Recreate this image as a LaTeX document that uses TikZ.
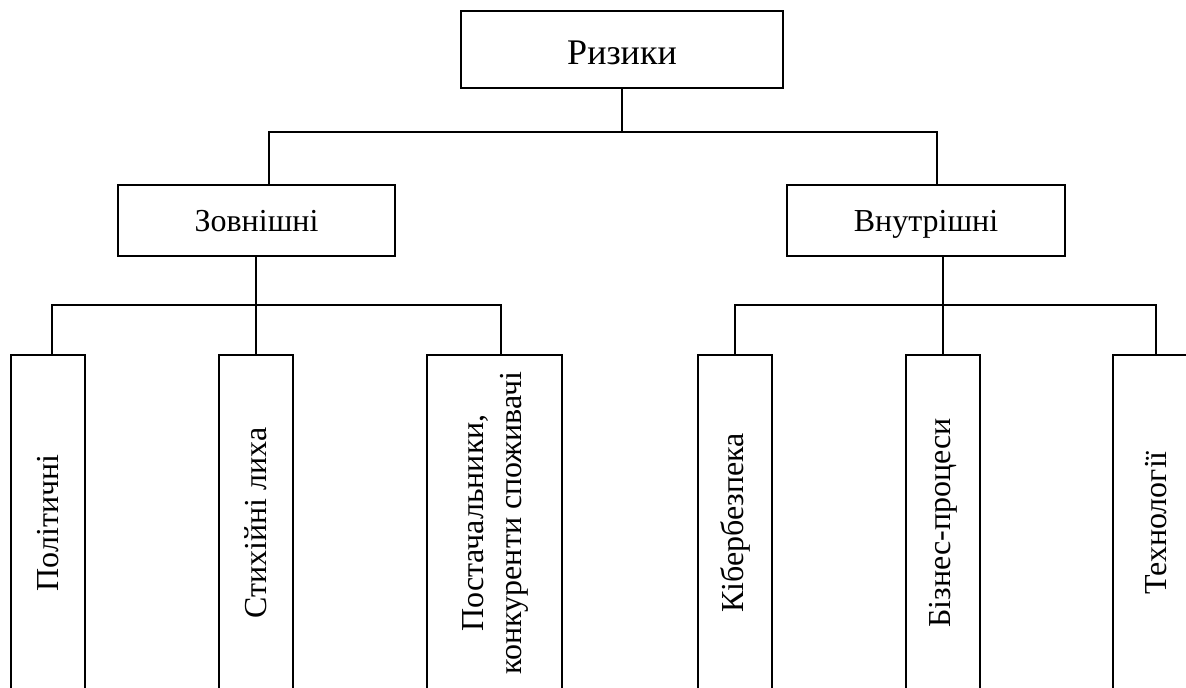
\documentclass[tikz,border=0pt]{standalone}
\usepackage{fontspec}
\setmainfont{Liberation Serif}
\usepackage{graphicx}
\begin{document}
\begin{tikzpicture}[x=0.5pt,y=-0.5pt,line width=1.1pt,
		every node/.style={font=\fontsize{16}{19}\selectfont},
		riskbox/.style={draw, inner sep=0pt, text height=10.6pt, text depth=0pt},
		leafbox/.style={draw, inner sep=0pt, minimum width=37pt, minimum height=168pt}]
				\useasboundingbox (0,0) rectangle (1186,688);
				\clip (0,0) rectangle (1186,688);
				\node[riskbox, minimum width=161pt, minimum height=38.5pt, font=\fontsize{18}{21}\selectfont, text height=15.4pt] (risks) at (622,49.5) {Ризики};
				\node[riskbox, minimum width=138.5pt, minimum height=35.5pt] (ext) at (256.5,220.5) {Зовнішні};
				\node[riskbox, minimum width=139pt, minimum height=35.5pt] (int) at (926,220.5) {Внутрішні};
				\node[leafbox] (pol) at (48,523) {\rotatebox{90}{Політичні}};
				\node[leafbox] (nat) at (256,523) {\rotatebox{90}{Стихійні лиха}};
				\node[leafbox, minimum width=67.5pt] (sup) at (494.5,523) {\rotatebox{90}{\begin{tabular}{@{}c@{}}Постачальники,\\конкуренти споживачі\end{tabular}}};
				\node[leafbox] (cyb) at (735,523) {\rotatebox{90}{Кібербезпека}};
				\node[leafbox] (bus) at (943,523) {\rotatebox{90}{Бізнес-процеси}};
				\node[leafbox, minimum width=43pt] (tech) at (1156,523) {\rotatebox{90}{Технології}};
				\coordinate (top) at (622,132);
				\coordinate (extbar) at (256,305);
				\coordinate (intbar) at (943,305);
				\draw (risks) -- (top);
				\draw ([xshift=6.25pt]ext.north) |- (top) -| ([xshift=5.5pt]int.north);
				\draw (ext.south -| nat.north) -- (nat.north);
				\draw ([xshift=2pt]pol.north) |- (extbar) -| ([xshift=3.25pt]sup.north);
				\draw (int.south -| bus.north) -- (bus.north);
				\draw (cyb.north) |- (intbar) -| (tech.north);
			\end{tikzpicture}
\end{document}
